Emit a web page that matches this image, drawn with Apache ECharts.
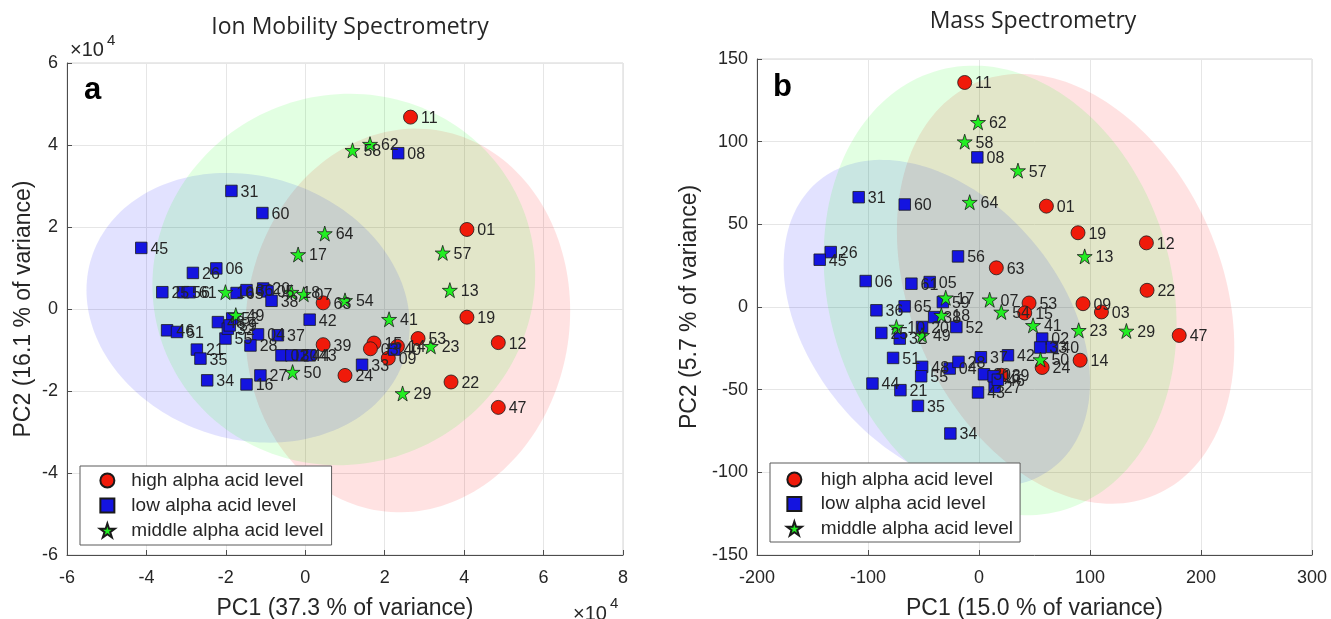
<!DOCTYPE html>
<html><head><meta charset="utf-8">
<script src="https://cdn.jsdelivr.net/npm/echarts@6/dist/echarts.min.js"></script>
<style>html,body{margin:0;padding:0;background:#fff}#c{width:1331px;height:619px}</style>
</head><body><div id="c"></div>
<script>
const groupNames = ['high alpha acid level', 'low alpha acid level', 'middle alpha acid level'];

// ---------- Panel a: Ion Mobility Spectrometry (values in units of 1e4) ----------
const xTicksA = [-6, -4, -2, 0, 2, 4, 6, 8];
const yTicksA = [-6, -4, -2, 0, 2, 4, 6];

const imsHighIds = ['11','01','19','12','22','47','63','39','24','53','09','15','03','14'];
const imsHighX   = [2.65, 4.07, 4.07, 4.86, 3.67, 4.86, 0.45, 0.45, 1.00, 2.84, 2.09, 1.73, 1.64, 2.32];
const imsHighY   = [4.68, 1.94, -0.20, -0.82, -1.78, -2.40, 0.15, -0.87, -1.62, -0.72, -1.20, -0.83, -0.97, -0.91];

const imsLowIds = ['08','31','60','45','26','06','25','56','61','65','36','20','05','38','42','04','37','28',
                   '46','51','21','35','34','16','27','33','40','55','48','32','52','59','02','30','44','43'];
const imsLowX   = [2.34, -1.86, -1.08, -4.13, -2.83, -2.24, -3.60, -3.08, -2.91, -1.73, -1.48, -1.06, -0.95, -0.85, 0.11, -1.19, -0.69, -1.38,
                   -3.48, -3.23, -2.73, -2.64, -2.47, -1.48, -1.13, 1.43, 2.24, -2.01, -2.20, -1.95, -1.84, -1.90, -0.60, -0.35, -0.06, 0.11];
const imsLowY   = [3.80, 2.88, 2.34, 1.49, 0.88, 0.99, 0.41, 0.41, 0.41, 0.39, 0.46, 0.50, 0.43, 0.20, -0.26, -0.62, -0.64, -0.89,
                   -0.52, -0.56, -0.99, -1.21, -1.74, -1.84, -1.62, -1.36, -0.99, -0.72, -0.32, -0.48, -0.23, -0.40, -1.13, -1.13, -1.13, -1.13];

const imsMidIds = ['62','58','64','17','57','13','54','41','23','29','50','49','10','18','07'];
const imsMidX   = [1.63, 1.19, 0.49, -0.18, 3.46, 3.64, 1.00, 2.11, 3.16, 2.45, -0.32, -1.75, -2.01, -0.35, -0.04];
const imsMidY   = [4.02, 3.87, 1.84, 1.33, 1.37, 0.46, 0.21, -0.25, -0.91, -2.06, -1.54, -0.15, 0.41, 0.41, 0.36];

// confidence ellipses: centre, half-widths, correlation (order: high, low, middle)
const imsEllCx  = [2.58, -1.44, 0.97];
const imsEllCy  = [-0.28, 0.03, 0.72];
const imsEllRx  = [4.09, 4.07, 4.82];
const imsEllRy  = [4.68, 3.29, 4.53];
const imsEllRho = [0.05, -0.13, 0.03];

// ---------- Panel b: Mass Spectrometry ----------
const xTicksB = [-200, -100, 0, 100, 200, 300];
const yTicksB = [-150, -100, -50, 0, 50, 100, 150];

const msHighIds = ['11','01','19','12','22','63','53','15','09','03','47','14','24','39'];
const msHighX   = [-12.9, 60.7, 89.2, 150.8, 151.4, 15.6, 45.1, 41.2, 93.7, 110.3, 180.4, 91.1, 56.9, 20.1];
const msHighY   = [135.8, 61.0, 44.9, 38.8, 10.1, 23.7, 2.4, -3.6, 2.0, -3.0, -17.2, -32.2, -36.6, -41.3];

const msLowIds = ['08','31','60','26','45','56','06','61','05','65','36','59','38','20','52','25','32','51',
                  '48','55','04','28','37','42','02','33','40','44','21','35','34','43','27','30','16','46'];
const msLowX   = [-1.5, -108.4, -66.9, -133.6, -143.5, -18.9, -102.1, -60.9, -44.4, -67.0, -92.4, -32.6, -40.4, -51.3, -20.4, -88.0, -71.4, -77.4,
                  -51.2, -52.1, -26.4, -18.5, 1.7, 26.1, 56.9, 55.1, 65.9, -96.0, -70.8, -55.0, -25.8, -0.9, 14.1, 4.5, 13.2, 17.0];
const msLowY   = [90.5, 66.4, 62.0, 33.2, 28.6, 30.6, 15.7, 14.1, 15.1, 0.4, -2.0, 3.0, -6.1, -12.1, -12.1, -15.7, -19.1, -30.8,
                  -36.2, -41.9, -37.2, -33.2, -30.4, -29.2, -19.1, -24.5, -24.2, -46.3, -50.3, -59.8, -76.5, -51.7, -48.3, -40.7, -41.9, -44.0];

const msMidIds = ['62','58','57','64','13','17','07','54','41','23','29','50','18','10','49'];
const msMidX   = [-0.9, -12.9, 35.1, -8.4, 95.2, -30.0, 9.6, 20.1, 48.7, 89.8, 132.8, 55.4, -33.9, -74.4, -51.3];
const msMidY   = [111.7, 100.0, 82.5, 63.4, 30.6, 5.6, 4.4, -3.0, -11.1, -14.1, -14.5, -31.8, -5.0, -12.1, -17.1];

const msEllCx  = [78, -38, 19];
const msEllCy  = [11, -10, 10];
const msEllRx  = [152, 138, 159];
const msEllRy  = [130, 99, 136];
const msEllRho = [-0.27, -0.36, -0.15];

// ---------- styling ----------
const FONT = '"Liberation Sans", Arial, sans-serif';
const TXT = '#262626';
const markerColors = ['#f01a0a', '#1414e0', '#22ee22'];
const ellFills = ['rgba(255,0,0,0.115)', 'rgba(0,0,255,0.115)', 'rgba(0,255,0,0.115)'];
const STAR = 'path://M50,0 L61.2,34.5 L97.6,34.5 L68.2,55.9 L79.4,90.5 L50,69.1 L20.6,90.5 L31.8,55.9 L2.4,34.5 L38.8,34.5 Z';
const SQUARE = 'path://M0,0 L10,0 L10,10 L0,10 Z';
const symbols = ['circle', 'rect', STAR];
const legendIcons = ['circle', SQUARE, STAR];
const symbolSizes = [14, 11.5, 15];

function zip(ids, xs, ys) { return ids.map((id, i) => [xs[i], ys[i], id]); }
function ellData(cx, cy, rx, ry, rho) { return cx.map((c, i) => [c, cy[i], rx[i], ry[i], rho[i], i]); }

function renderEllipse(params, api) {
  const cx = api.value(0), cy = api.value(1), rx = api.value(2), ry = api.value(3), rho = api.value(4);
  const s = Math.sqrt(1 - rho * rho);
  const pts = [];
  for (let k = 0; k < 180; k++) {
    const t = k / 180 * Math.PI * 2;
    pts.push(api.coord([cx + rx * Math.cos(t), cy + ry * (rho * Math.cos(t) + s * Math.sin(t))]));
  }
  return { type: 'polygon', shape: { points: pts }, style: { fill: ellFills[api.value(5)], stroke: null } };
}

function scatterSeries(gi, name, data, axisIdx) {
  return {
    type: 'scatter', name: name, xAxisIndex: axisIdx, yAxisIndex: axisIdx, z: 3,
    symbol: symbols[gi], symbolSize: symbolSizes[gi],
    itemStyle: { color: markerColors[gi], borderColor: '#1a1a1a', borderWidth: 0.8, opacity: 1 },
    label: { show: true, position: 'right', distance: 3, offset: [0, 1.5], formatter: p => p.value[2],
             fontFamily: FONT, fontSize: 16, color: TXT },
    emphasis: { disabled: true },
    data: data
  };
}

function xAxisOpt(grid, min, max, interval, name) {
  return {
    type: 'value', gridIndex: grid, min: min, max: max, interval: interval,
    name: name, nameLocation: 'middle', nameGap: 42,
    nameTextStyle: { fontFamily: FONT, fontSize: 23, color: TXT },
    axisLine: { onZero: false, lineStyle: { color: '#4d4d4d', width: 1 } },
    axisTick: { inside: true, length: 5, lineStyle: { color: '#4d4d4d' } },
    axisLabel: { fontFamily: FONT, fontSize: 18, color: TXT, margin: 14 },
    splitLine: { show: true, lineStyle: { color: '#e6e6e6', width: 1 } }
  };
}
function yAxisOpt(grid, min, max, interval, name, gap) {
  return {
    type: 'value', gridIndex: grid, min: min, max: max, interval: interval,
    name: name, nameLocation: 'middle', nameGap: gap, nameRotate: 90,
    nameTextStyle: { fontFamily: FONT, fontSize: 23, color: TXT },
    axisLine: { onZero: false, lineStyle: { color: '#4d4d4d', width: 1 } },
    axisTick: { inside: true, length: 5, lineStyle: { color: '#4d4d4d' } },
    axisLabel: { fontFamily: FONT, fontSize: 18, color: TXT, margin: 9 },
    splitLine: { show: true, lineStyle: { color: '#e6e6e6', width: 1 } }
  };
}
function legendOpt(left, top, itemWidth, padding, gap) {
  return {
    orient: 'vertical', left: left, top: top, itemWidth: itemWidth, itemHeight: 14, itemGap: gap,
    padding: padding, backgroundColor: '#fff', borderColor: '#5a5a5a', borderWidth: 1, borderRadius: 0,
    selectedMode: false, symbolKeepAspect: true,
    textStyle: { fontFamily: FONT, fontSize: 19, color: TXT, lineHeight: 19 },
    data: groupNames.map((n, i) => ({ name: n, icon: legendIcons[i] }))
  };
}

const TITLE_FONT = '"Open Sans", "Noto Sans", sans-serif';
const option = {
  animation: false,
  title: [
    { text: 'Ion Mobility Spectrometry', left: 350, top: 16, textAlign: 'center', padding: 0,
      textStyle: { fontFamily: TITLE_FONT, fontWeight: 'normal', fontSize: 23, color: TXT } },
    { text: 'Mass Spectrometry', left: 1033, top: 10, textAlign: 'center', padding: 0,
      textStyle: { fontFamily: TITLE_FONT, fontWeight: 'normal', fontSize: 23, color: TXT } }
  ],
  grid: [
    { left: 67, top: 63, width: 556, height: 492, outerBoundsMode: 'none', containLabel: false,
      show: true, borderColor: '#d4d4d4', borderWidth: 1, backgroundColor: 'transparent' },
    { left: 757, top: 59, width: 555, height: 496, outerBoundsMode: 'none', containLabel: false,
      show: true, borderColor: '#d4d4d4', borderWidth: 1, backgroundColor: 'transparent' }
  ],
  xAxis: [
    xAxisOpt(0, xTicksA[0], xTicksA[xTicksA.length - 1], 2, 'PC1 (37.3 % of variance)'),
    xAxisOpt(1, xTicksB[0], xTicksB[xTicksB.length - 1], 100, 'PC1 (15.0 % of variance)')
  ],
  yAxis: [
    yAxisOpt(0, yTicksA[0], yTicksA[yTicksA.length - 1], 2, 'PC2 (16.1 % of variance)', 32),
    yAxisOpt(1, yTicksB[0], yTicksB[yTicksB.length - 1], 50, 'PC2 (5.7 % of variance)', 56)
  ],
  legend: [
    legendOpt(80, 466, 38, [5, 8, 5, 19], 6),
    legendOpt(770, 463, 43, [7, 7, 4, 16], 5.5)
  ],
  graphic: [
    { type: 'text', left: 84, top: 75, style: { text: 'a', fontFamily: FONT, fontWeight: 'bold', fontSize: 31, fill: '#000' } },
    { type: 'text', left: 773, top: 72, style: { text: 'b', fontFamily: FONT, fontWeight: 'bold', fontSize: 31, fill: '#000' } },
    { type: 'text', left: 70, top: 40, style: { text: '×10', fontFamily: FONT, fontSize: 20, fill: TXT } },
    { type: 'text', left: 107, top: 33, style: { text: '4', fontFamily: FONT, fontSize: 15, fill: TXT } },
    { type: 'text', left: 573, top: 604, style: { text: '×10', fontFamily: FONT, fontSize: 20, fill: TXT } },
    { type: 'text', left: 610, top: 596, style: { text: '4', fontFamily: FONT, fontSize: 15, fill: TXT } }
  ],
  series: [
    { type: 'custom', name: 'ims ellipses', xAxisIndex: 0, yAxisIndex: 0, z: 1, silent: true,
      renderItem: renderEllipse, encode: { x: 0, y: 1 }, data: ellData(imsEllCx, imsEllCy, imsEllRx, imsEllRy, imsEllRho) },
    { type: 'custom', name: 'ms ellipses', xAxisIndex: 1, yAxisIndex: 1, z: 1, silent: true,
      renderItem: renderEllipse, encode: { x: 0, y: 1 }, data: ellData(msEllCx, msEllCy, msEllRx, msEllRy, msEllRho) },
    scatterSeries(0, groupNames[0], zip(imsHighIds, imsHighX, imsHighY), 0),
    scatterSeries(1, groupNames[1], zip(imsLowIds, imsLowX, imsLowY), 0),
    scatterSeries(2, groupNames[2], zip(imsMidIds, imsMidX, imsMidY), 0),
    scatterSeries(0, groupNames[0], zip(msHighIds, msHighX, msHighY), 1),
    scatterSeries(1, groupNames[1], zip(msLowIds, msLowX, msLowY), 1),
    scatterSeries(2, groupNames[2], zip(msMidIds, msMidX, msMidY), 1)
  ]
};

const chart = echarts.init(document.getElementById('c'), null, { renderer: 'canvas' });
chart.setOption(option);
</script>
</body></html>
